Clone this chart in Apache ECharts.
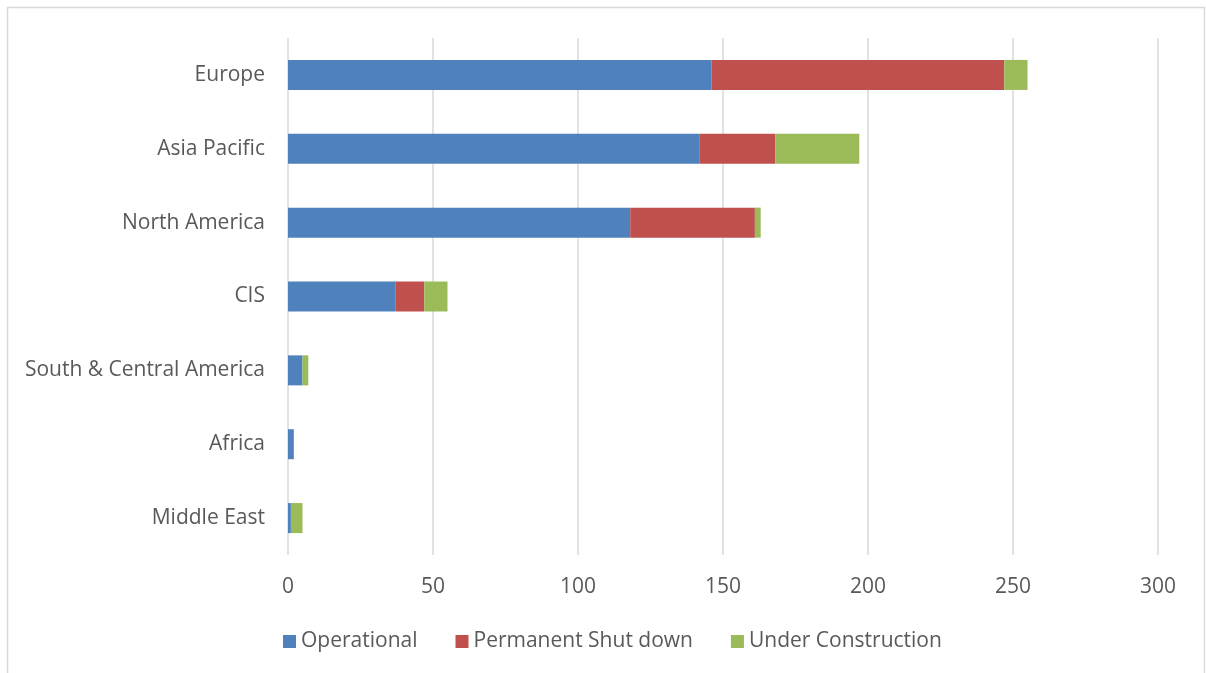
<!DOCTYPE html>
<html>
<head>
<meta charset="utf-8">
<script src="https://cdn.jsdelivr.net/npm/echarts@6/dist/echarts.min.js"></script>
<style>
  html, body { margin: 0; padding: 0; background: #fff; }
  #chart { width: 1206px; height: 673px; }
</style>
</head>
<body>
<div id="chart"></div>
<script>
// 数据
const regions = ['Europe', 'Asia Pacific', 'North America', 'CIS', 'South & Central America', 'Africa', 'Middle East']
const operational = [146, 142, 118, 37, 5, 2, 1]
const shutDown = [101, 26, 43, 10, 0, 0, 0]
const underConstruction = [8, 29, 2, 8, 2, 0, 4]
const xTicks = [0, 50, 100, 150, 200, 250, 300]

const colors = ['#4f81bd', '#c0504d', '#9bbb59']
const fontFamily = '"Open Sans", "Noto Sans", sans-serif'

function makeSeries(name, data, color) {
  return {
    name,
    data,
    type: 'bar',
    stack: 'total',
    barWidth: 30,
    itemStyle: {
      color
    },
    emphasis: { disabled: true }
  }
}

const chart = echarts.init(document.getElementById('chart'))

const option = {
  animation: false,
  color: colors,
  graphic: [{
    type: 'rect',
    shape: { x: 7.5, y: 7.5, width: 1197, height: 700 },
    style: { fill: 'none', stroke: '#d9d9d9', lineWidth: 1.5 },
    silent: true
  }],
  grid: {
    left: 288,
    right: 48,
    top: 38,
    bottom: 118
  },
  legend: {
    top: 626,
    left: 278,
    itemWidth: 13,
    itemHeight: 13,
    itemGap: 38,
    icon: 'rect',
    textStyle: {
      fontSize: 21,
      color: '#595959',
      fontFamily
    },
    data: ['Operational', 'Permanent Shut down', 'Under Construction']
  },
  xAxis: {
    type: 'value',
    min: xTicks[0],
    max: xTicks[xTicks.length - 1],
    interval: 50,
    axisLine: { show: false },
    axisTick: { show: false },
    axisLabel: {
      fontSize: 21,
      color: '#595959',
      fontFamily,
      margin: 22
    },
    splitLine: {
      lineStyle: { color: '#d9d9d9', width: 1.5 }
    }
  },
  yAxis: {
    type: 'category',
    inverse: true,
    data: regions,
    axisLine: { show: false },
    axisTick: { show: false },
    axisLabel: {
      fontSize: 21,
      color: '#595959',
      fontFamily,
      margin: 23
    }
  },
  series: [
    makeSeries('Operational', operational, colors[0]),
    makeSeries('Permanent Shut down', shutDown, colors[1]),
    makeSeries('Under Construction', underConstruction, colors[2])
  ]
}

chart.setOption(option)
</script>
</body>
</html>
